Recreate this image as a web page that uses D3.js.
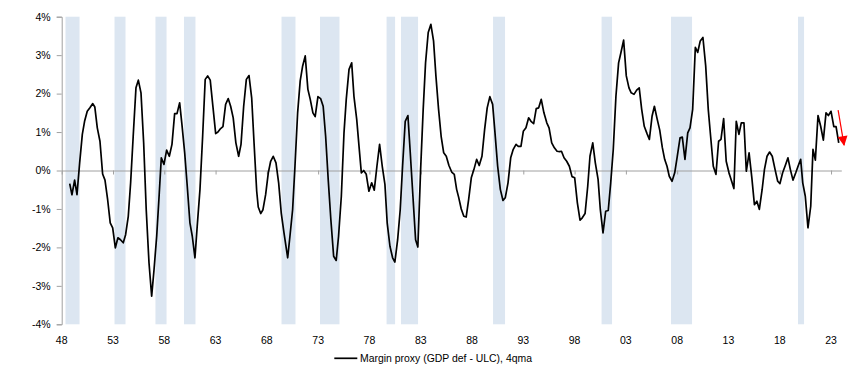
<!DOCTYPE html>
<html>
<head>
<meta charset="utf-8">
<script src="https://cdn.jsdelivr.net/npm/d3@7"></script>
<style>
  html, body { margin: 0; padding: 0; background: #fff; }
  svg { display: block; }
  text { font-family: "Liberation Sans", Arial, sans-serif; fill: #000; }
</style>
</head>
<body>
<svg id="chart" width="852" height="381"></svg>
<script>
// ---- data ----
const dates = [
  1948.78,1949.00,1949.26,1949.49,1949.75,1950.01,1950.23,1950.49,1950.75,1951.03,
  1951.23,1951.47,1951.73,1951.99,1952.22,1952.48,1952.73,1952.97,1953.23,1953.48,
  1953.73,1954.00,1954.23,1954.49,1954.72,1954.97,1955.24,1955.47,1955.73,1955.99,
  1956.24,1956.51,1956.77,1957.00,1957.26,1957.51,1957.71,1957.97,1958.23,1958.49,
  1958.75,1959.01,1959.24,1959.50,1959.72,1959.99,1960.24,1960.50,1960.73,1960.99,
  1961.21,1961.48,1961.74,1961.99,1962.23,1962.48,1962.74,1963.01,1963.23,1963.49,
  1963.72,1963.98,1964.23,1964.47,1964.72,1964.98,1965.25,1965.48,1965.74,1966.00,
  1966.26,1966.52,1966.75,1967.01,1967.16,1967.40,1967.62,1967.88,1968.14,1968.37,
  1968.62,1968.89,1969.15,1969.40,1969.67,1970.03,1970.25,1970.51,1970.74,1971.00,
  1971.25,1971.49,1971.74,1972.00,1972.23,1972.49,1972.71,1972.98,1973.24,1973.49,
  1973.73,1973.98,1974.24,1974.51,1974.76,1974.99,1975.26,1975.52,1975.74,1976.01,
  1976.27,1976.49,1976.76,1977.01,1977.21,1977.44,1977.69,1977.95,1978.22,1978.47,
  1978.73,1978.99,1979.25,1979.51,1979.73,1980.00,1980.26,1980.48,1980.75,1981.00,
  1981.23,1981.49,1981.75,1981.98,1982.24,1982.50,1982.72,1982.99,1983.24,1983.47,
  1983.73,1983.99,1984.25,1984.48,1984.74,1984.99,1985.24,1985.49,1985.75,1986.02,
  1986.27,1986.50,1986.70,1986.95,1987.20,1987.43,1987.67,1987.93,1988.19,1988.45,
  1988.70,1988.97,1989.23,1989.48,1989.74,1990.01,1990.24,1990.50,1990.76,1991.02,
  1991.24,1991.51,1991.77,1992.02,1992.29,1992.51,1992.77,1993.00,1993.26,1993.52,
  1993.75,1994.01,1994.26,1994.50,1994.75,1995.01,1995.29,1995.51,1995.77,1996.03,
  1996.29,1996.55,1996.72,1996.97,1997.23,1997.49,1997.75,1998.01,1998.27,1998.53,
  1998.75,1999.02,1999.28,1999.50,1999.77,2000.02,2000.29,2000.51,2000.77,2001.03,
  2001.28,2001.52,2001.77,2002.03,2002.29,2002.52,2002.78,2003.04,2003.30,2003.52,
  2003.79,2004.05,2004.30,2004.54,2004.79,2005.06,2005.29,2005.55,2005.78,2006.04,
  2006.30,2006.55,2006.78,2007.01,2007.23,2007.50,2007.76,2008.01,2008.28,2008.50,
  2008.76,2009.03,2009.25,2009.51,2009.77,2010.00,2010.25,2010.51,2010.78,2011.03,
  2011.26,2011.52,2011.78,2012.04,2012.27,2012.53,2012.78,2013.05,2013.31,2013.53,
  2013.76,2014.02,2014.25,2014.51,2014.74,2015.01,2015.28,2015.53,2015.77,2016.01,
  2016.28,2016.51,2016.76,2017.01,2017.27,2017.54,2017.80,2018.02,2018.28,2018.54,
  2018.80,2019.03,2019.29,2019.56,2019.81,2020.04,2020.24,2020.49,2020.75,2021.02,
  2021.24,2021.47,2021.73,2021.99,2022.25,2022.51,2022.74,2023.00,2023.27,2023.49,
  2023.75
];
const margin = [
  -0.34,-0.63,-0.25,-0.63,0.20,0.94,1.28,1.54,1.63,1.74,
  1.65,1.11,0.76,-0.09,-0.25,-0.76,-1.36,-1.49,-2.01,-1.75,
  -1.80,-1.88,-1.67,-1.19,-0.32,0.89,2.15,2.35,2.02,0.72,
  -1.02,-2.40,-3.27,-2.58,-1.71,-0.60,0.33,0.16,0.53,0.37,
  0.68,1.48,1.48,1.76,1.20,0.46,-0.41,-1.36,-1.71,-2.27,
  -1.45,-0.49,0.89,2.37,2.46,2.35,1.67,0.96,1.00,1.09,
  1.14,1.72,1.87,1.67,1.37,0.72,0.37,0.68,1.67,2.37,
  2.47,1.89,0.72,-0.54,-0.95,-1.12,-1.02,-0.63,-0.06,0.24,
  0.37,0.20,-0.32,-1.10,-1.62,-2.27,-1.71,-1.02,0.11,1.50,
  2.33,2.72,2.98,2.11,1.85,1.50,1.40,1.92,1.87,1.67,
  0.89,-0.23,-1.28,-2.23,-2.34,-1.71,-0.67,0.98,1.85,2.63,
  2.80,1.93,1.33,0.55,-0.06,0.00,-0.10,-0.54,-0.32,-0.51,
  0.11,0.68,0.11,-0.36,-1.36,-1.97,-2.27,-2.38,-1.80,-1.02,
  0.11,1.28,1.43,0.46,-0.67,-1.80,-1.99,0.03,1.59,2.80,
  3.59,3.80,3.37,2.46,1.59,0.89,0.46,0.37,0.13,-0.04,
  -0.10,-0.49,-0.70,-1.00,-1.19,-1.21,-0.76,-0.19,0.03,0.29,
  0.13,0.37,1.07,1.63,1.92,1.72,0.98,0.11,-0.49,-0.78,
  -0.71,-0.32,0.33,0.55,0.68,0.63,0.63,1.02,1.11,1.37,
  1.28,1.22,1.61,1.63,1.85,1.50,1.24,1.11,0.72,0.59,
  0.50,0.49,0.50,0.33,0.24,0.11,-0.16,-0.19,-0.84,-1.29,
  -1.23,-1.12,-0.41,0.37,0.72,0.20,-0.23,-1.02,-1.62,-1.06,
  -1.04,-0.32,0.55,1.93,2.80,3.07,3.39,2.46,2.15,2.02,
  1.98,2.09,2.15,1.59,1.15,0.96,0.81,1.41,1.67,1.35,
  1.05,0.60,0.29,0.11,-0.15,-0.28,-0.06,0.37,0.85,0.87,
  0.29,0.98,1.11,1.59,3.20,3.07,3.37,3.46,2.72,1.59,
  0.89,0.11,-0.10,0.76,0.81,1.35,0.24,-0.06,-0.28,-0.47,
  1.28,0.94,1.24,1.24,-0.02,0.46,-0.19,-0.89,-0.80,-1.01,
  -0.50,0.03,0.37,0.48,0.37,0.03,-0.28,-0.34,-0.06,0.13,
  0.33,0.03,-0.25,-0.06,0.13,0.29,-0.32,-0.67,-1.49,-0.93,
  0.55,0.27,1.43,1.15,0.79,1.50,1.43,1.54,1.14,1.14,
  0.72
];
const recessionStarts = [1948.37,1953.15,1957.14,1959.92,1969.43,1973.18,1979.67,1981.08,1990.05,2000.63,2007.40,2019.78];
const recessionEnds   = [1949.74,1954.22,1958.22,1961.04,1970.79,1975.08,1980.50,1982.74,1991.22,2001.65,2009.45,2020.37];
const yTicks = [-4,-3,-2,-1,0,1,2,3,4];
const xTickYears = [1948,1953,1958,1963,1968,1973,1978,1983,1988,1993,1998,2003,2008,2013,2018,2023];
const xTickLabels = ["48","53","58","63","68","73","78","83","88","93","98","03","08","13","18","23"];
const legendLabel = "Margin proxy (GDP def - ULC), 4qma";
const arrowFrom = [2023.69, 1.57];
const arrowTo = [2024.27, 0.66];

// ---- layout ----
const svg = d3.select("#chart");
const x = d3.scaleLinear().domain([1948, 2024]).range([61.7, 841.3]);
const y = d3.scaleLinear().domain([-4, 4]).range([324.3, 16.7]);
const axisColor = "#a0a0a0";
const bandColor = "#dce6f1";

// recession bands
svg.append("g").selectAll("rect")
  .data(recessionStarts.map((s, i) => [s, recessionEnds[i]]))
  .join("rect")
  .attr("x", d => x(d[0]))
  .attr("width", d => x(d[1]) - x(d[0]))
  .attr("y", y(4))
  .attr("height", y(-4) - y(4))
  .attr("fill", bandColor);

// y axis
const yAxis = d3.axisLeft(y).tickValues(yTicks).tickFormat(d => d + "%").tickSize(5).tickPadding(6);
const gy = svg.append("g").attr("transform", `translate(${x(1948)},0)`).call(yAxis);
gy.select(".domain").attr("stroke", axisColor).attr("stroke-width", 1);
gy.selectAll(".tick line").attr("stroke", axisColor);
gy.selectAll(".tick text").attr("font-size", "10.5px").attr("font-family", "Liberation Sans, Arial, sans-serif").attr("fill", "#000");

// zero line with downward ticks (no labels)
const xAxis = d3.axisBottom(x).tickValues(xTickYears).tickFormat("").tickSize(4).tickSizeOuter(0);
const gx = svg.append("g").attr("transform", `translate(0,${y(0)})`).call(xAxis);
gx.select(".domain").attr("stroke", axisColor).attr("stroke-width", 1);
gx.selectAll(".tick line").attr("stroke", axisColor);

// x tick labels at the bottom
svg.append("g").selectAll("text")
  .data(xTickYears)
  .join("text")
  .attr("x", d => x(d))
  .attr("y", 344)
  .attr("text-anchor", "middle")
  .attr("font-size", "10.5px")
  .text((d, i) => xTickLabels[i]);

// data line
const pts = dates.map((d, i) => [d, margin[i]]);
svg.append("path")
  .datum(pts)
  .attr("fill", "none")
  .attr("stroke", "#000")
  .attr("stroke-width", 1.7)
  .attr("stroke-linejoin", "round")
  .attr("d", d3.line().x(d => x(d[0])).y(d => y(d[1])));

// red arrow annotation
const defs = svg.append("defs");
defs.append("marker")
  .attr("id", "arrowhead")
  .attr("viewBox", "0 0 10 10")
  .attr("refX", 9).attr("refY", 5)
  .attr("markerUnits", "userSpaceOnUse")
  .attr("markerWidth", 11).attr("markerHeight", 10)
  .attr("orient", "auto")
  .append("path")
  .attr("d", "M0,0 L10,5 L0,10 Z")
  .attr("fill", "#ff0000");
svg.append("line")
  .attr("x1", x(arrowFrom[0])).attr("y1", y(arrowFrom[1]))
  .attr("x2", x(arrowTo[0])).attr("y2", y(arrowTo[1]))
  .attr("stroke", "#ff0000")
  .attr("stroke-width", 1.2)
  .attr("marker-end", "url(#arrowhead)");

// legend
const lg = svg.append("g");
lg.append("line").attr("x1", 334.3).attr("x2", 357.3).attr("y1", 358.3).attr("y2", 358.3)
  .attr("stroke", "#000").attr("stroke-width", 1.7);
lg.append("text").attr("x", 360).attr("y", 362.3).attr("font-size", "10.5px")
  .attr("textLength", 172).attr("lengthAdjust", "spacingAndGlyphs")
  .text(legendLabel);
</script>
</body>
</html>
